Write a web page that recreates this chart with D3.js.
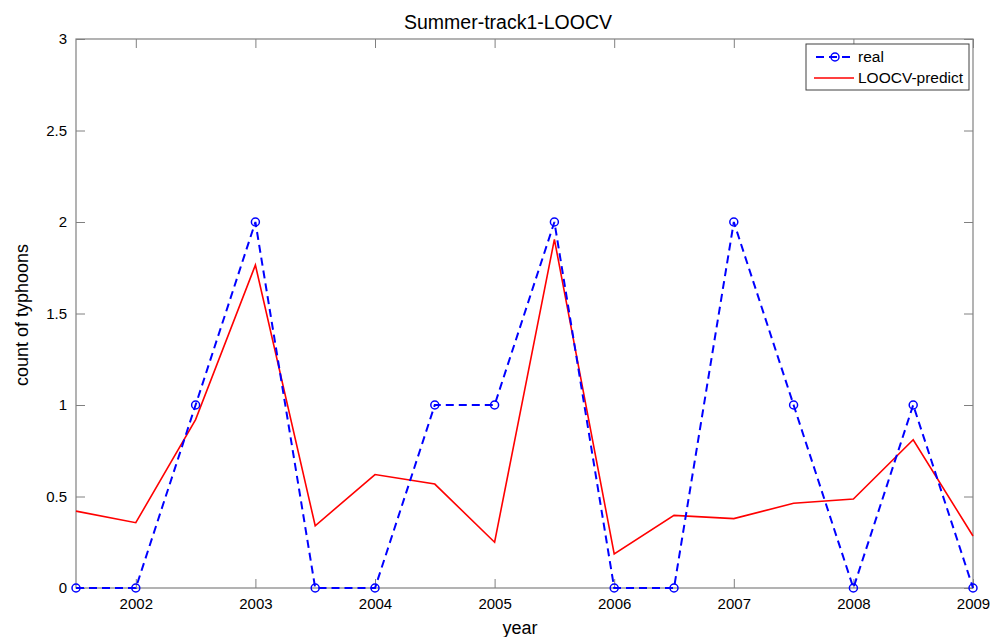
<!DOCTYPE html>
<html>
<head>
<meta charset="utf-8">
<script src="https://cdn.jsdelivr.net/npm/d3@7"></script>
<style>
  body { margin: 0; background: #fff; }
  text { font-family: "Liberation Sans", Arial, sans-serif; fill: #000; }
</style>
</head>
<body>
<svg id="chart" width="1003" height="637"></svg>
<script>
"use strict";

//
// Data
//

var years = [2001.5, 2002, 2002.5, 2003, 2003.5, 2004, 2004.5, 2005,
             2005.5, 2006, 2006.5, 2007, 2007.5, 2008, 2008.5, 2009];
var realCounts = [0, 0, 1, 2, 0, 0, 1, 1, 2, 0, 0, 2, 1, 0, 1, 0];
var predictCounts = [0.42, 0.357, 0.92, 1.765, 0.34, 0.62, 0.568, 0.25,
                     1.905, 0.186, 0.397, 0.379, 0.463, 0.486, 0.81, 0.284];
var xTicks = [2002, 2003, 2004, 2005, 2006, 2007, 2008, 2009];
var yTicks = [0, 0.5, 1, 1.5, 2, 2.5, 3];


//
// Layout
//

var margin = { left: 76, right: 30, top: 39, bottom: 49 };
var width = 1003 - margin.left - margin.right,
    height = 637 - margin.top - margin.bottom;

var svg = d3.select("#chart");
var g = svg.append("g")
    .attr("transform", "translate(" + margin.left + "," + margin.top + ")");

var x = d3.scaleLinear().domain([2001.5, 2009]).range([0, width]);
var y = d3.scaleLinear().domain([0, 3]).range([height, 0]);

var axisColor = "#808080";


//
// Axes (box with inward ticks on all sides)
//

function styleAxis(sel) {
    sel.select(".domain").remove();
    sel.selectAll(".tick line").attr("stroke", axisColor);
    sel.selectAll(".tick text").style("font-size", "15px")
        .style("font-family", "'Liberation Sans', Arial, sans-serif");
}

g.append("g")
    .attr("transform", "translate(0," + height + ")")
    .call(d3.axisBottom(x).tickValues(xTicks).tickFormat(d3.format("d"))
        .tickSizeInner(-9).tickPadding(10))
    .call(styleAxis);

g.append("g")
    .call(d3.axisTop(x).tickValues(xTicks).tickSizeInner(-9).tickFormat(""))
    .call(styleAxis);

g.append("g")
    .call(d3.axisLeft(y).tickValues(yTicks).tickFormat(d3.format("~g"))
        .tickSizeInner(-9).tickPadding(9))
    .call(styleAxis);

g.append("g")
    .attr("transform", "translate(" + width + ",0)")
    .call(d3.axisRight(y).tickValues(yTicks).tickSizeInner(-9).tickFormat(""))
    .call(styleAxis);

g.append("rect")
    .attr("width", width)
    .attr("height", height)
    .attr("fill", "none")
    .attr("stroke", axisColor)
    .attr("stroke-width", 1.2);


//
// Lines
//

var line = d3.line()
    .x(function (d) { return x(d[0]); })
    .y(function (d) { return y(d[1]); });

var predictData = years.map(function (yr, i) { return [yr, predictCounts[i]]; });
var realData = years.map(function (yr, i) { return [yr, realCounts[i]]; });

g.append("path")
    .datum(predictData)
    .attr("d", line)
    .attr("fill", "none")
    .attr("stroke", "#ff0000")
    .attr("stroke-width", 1.6);

g.append("path")
    .datum(realData)
    .attr("d", line)
    .attr("fill", "none")
    .attr("stroke", "#0000ff")
    .attr("stroke-width", 2)
    .attr("stroke-dasharray", "8,5");

g.selectAll(".marker")
    .data(realData)
    .enter().append("circle")
    .attr("class", "marker")
    .attr("cx", function (d) { return x(d[0]); })
    .attr("cy", function (d) { return y(d[1]); })
    .attr("r", 4)
    .attr("fill", "none")
    .attr("stroke", "#0000ff")
    .attr("stroke-width", 1.5);


//
// Titles
//

svg.append("text")
    .attr("x", 508)
    .attr("y", 29)
    .attr("text-anchor", "middle")
    .style("font-size", "19.5px")
    .text("Summer-track1-LOOCV");

svg.append("text")
    .attr("x", 520)
    .attr("y", 634)
    .attr("text-anchor", "middle")
    .style("font-size", "18px")
    .text("year");

svg.append("text")
    .attr("transform", "translate(28,315) rotate(-90)")
    .attr("text-anchor", "middle")
    .style("font-size", "18px")
    .text("count of typhoons");


//
// Legend
//

var legend = svg.append("g").attr("transform", "translate(806,44)");

legend.append("rect")
    .attr("width", 163)
    .attr("height", 46)
    .attr("fill", "#fff")
    .attr("stroke", "#404040")
    .attr("stroke-width", 1);

legend.append("line")
    .attr("x1", 10).attr("x2", 48)
    .attr("y1", 13).attr("y2", 13)
    .attr("stroke", "#0000ff")
    .attr("stroke-width", 2)
    .attr("stroke-dasharray", "8,5");

legend.append("circle")
    .attr("cx", 29).attr("cy", 13).attr("r", 4)
    .attr("fill", "none")
    .attr("stroke", "#0000ff")
    .attr("stroke-width", 1.5);

legend.append("line")
    .attr("x1", 8).attr("x2", 48)
    .attr("y1", 34).attr("y2", 34)
    .attr("stroke", "#ff0000")
    .attr("stroke-width", 1.6);

legend.append("text")
    .attr("x", 52).attr("y", 18)
    .style("font-size", "15.5px")
    .text("real");

legend.append("text")
    .attr("x", 52).attr("y", 39)
    .style("font-size", "15.5px")
    .text("LOOCV-predict");
</script>
</body>
</html>
